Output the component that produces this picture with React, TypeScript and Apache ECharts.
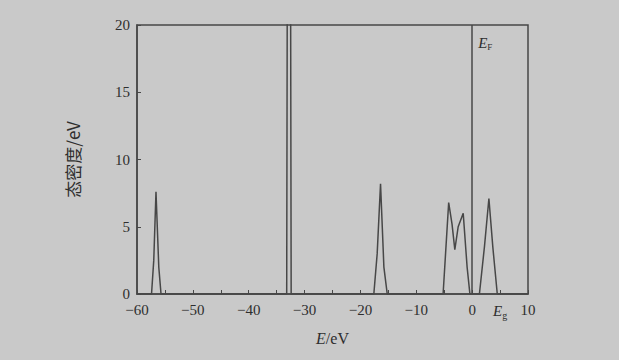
import React, { useEffect, useRef } from "react";
import * as echarts from "echarts";

// Energy (eV) and density of states (1/eV)
const energy = [
  -60, -57.4, -57.0, -56.6, -56.1, -55.7,
  -34.0, -33.2, -32.8, -32.4, -31.6,
  -18.4, -17.6, -17.0, -16.4, -15.8, -15.2,
  -6.3, -5.2, -4.2, -3.6, -3.1, -2.5, -1.6, -0.9, -0.4,
  1.3, 2.2, 3.0, 3.7, 4.5, 10,
];
const dos = [
  0, 0, 2.5, 7.6, 2.0, 0,
  0, 0, 90, 0, 0,
  0, 0, 3.0, 8.2, 2.0, 0,
  0, 0, 6.8, 5.2, 3.3, 5.0, 6.0, 2.0, 0,
  0, 3.5, 7.1, 3.5, 0, 0,
];
const xTickLabels = ["−60", "−50", "−40", "−30", "−20", "−10", "0", "Eg", "10"];
const yTickLabels = ["0", "5", "10", "15", "20"];
const fermiLevel = 0;

export default function App() {
  const ref = useRef<HTMLDivElement>(null);
  useEffect(() => {
    if (!ref.current) return;
    const chart = echarts.init(ref.current, null, { renderer: "svg" });
    const ink = "#474747";
    const txt = "#2e2e2e";
    const serif = "'Liberation Serif', 'DejaVu Serif', serif";
    const xLabelFor = (v: number) => {
      if (v === 5) return "{i|E}{s|g}";
      if (v % 10 === 0) {
        const idx = (v + 60) / 10;
        const lab = xTickLabels[idx >= 7 ? idx + 1 : idx];
        return lab ?? "";
      }
      return "";
    };
    chart.setOption({
      animation: false,
      backgroundColor: "#c9c9c9",
      grid: {
        left: 137,
        right: 91,
        top: 25,
        bottom: 66,
        show: true,
        borderColor: ink,
        borderWidth: 1.5,
        backgroundColor: "transparent",
      },
      xAxis: {
        type: "value",
        min: -60,
        max: 10,
        interval: 5,
        name: "{i|E}/eV",
        nameLocation: "middle",
        nameGap: 36,
        nameTextStyle: {
          fontFamily: serif,
          fontSize: 16,
          color: txt,
          rich: { i: { fontStyle: "italic", fontFamily: serif, fontSize: 16, color: txt } },
        },
        axisLine: { show: true, onZero: false, lineStyle: { color: ink, width: 1.5 } },
        axisTick: { show: true, inside: true, length: 4, lineStyle: { color: ink } },
        splitLine: { show: false },
        axisLabel: {
          margin: 8,
          color: txt,
          fontFamily: serif,
          fontSize: 15,
          formatter: xLabelFor,
          rich: {
            i: { fontStyle: "italic", fontFamily: serif, fontSize: 15, color: txt },
            s: { fontFamily: serif, fontSize: 10, color: txt, padding: [8, 0, 0, 0] },
          },
        },
      },
      yAxis: {
        type: "value",
        min: 0,
        max: 20,
        interval: 5,
        name: "态密度/eV",
        nameLocation: "middle",
        nameGap: 56,
        nameTextStyle: {
          fontFamily: "'Noto Sans CJK SC', sans-serif",
          fontSize: 17,
          color: txt,
          padding: [0, 0, 0, 0],
        },
        axisLine: { show: true, onZero: false, lineStyle: { color: ink, width: 1.5 } },
        axisTick: { show: true, inside: true, length: 4, lineStyle: { color: ink } },
        splitLine: { show: false },
        axisLabel: {
          margin: 7,
          color: txt,
          fontFamily: serif,
          fontSize: 15,
          formatter: (v: number) => yTickLabels[v / 5] ?? "",
        },
      },
      series: [
        {
          type: "line",
          data: energy.map((e, i) => [e, dos[i]]),
          symbol: "none",
          clip: true,
          lineStyle: { color: ink, width: 1.5 },
          markLine: {
            silent: true,
            symbol: "none",
            label: { show: false },
            lineStyle: { color: ink, width: 1.5, type: "solid" },
            data: [{ xAxis: fermiLevel }],
          },
        },
      ],
    });
    const p = chart.convertToPixel({ gridIndex: 0 }, [fermiLevel, 20]) as number[];
    chart.setOption({
      graphic: [
        {
          type: "text",
          x: p[0] + 6,
          y: p[1] + 9,
          style: {
            text: "{i|E}{s|F}",
            rich: {
              i: { fontStyle: "italic", fontFamily: serif, fontSize: 15, fill: txt },
              s: { fontFamily: serif, fontSize: 9, fill: txt, padding: [8, 0, 0, 0] },
            },
          },
        },
      ],
    });
    return () => chart.dispose();
  }, []);
  return (
    <div
      ref={ref}
      style={{ position: "absolute", left: 0, top: 0, width: 619, height: 360 }}
    />
  );
}
